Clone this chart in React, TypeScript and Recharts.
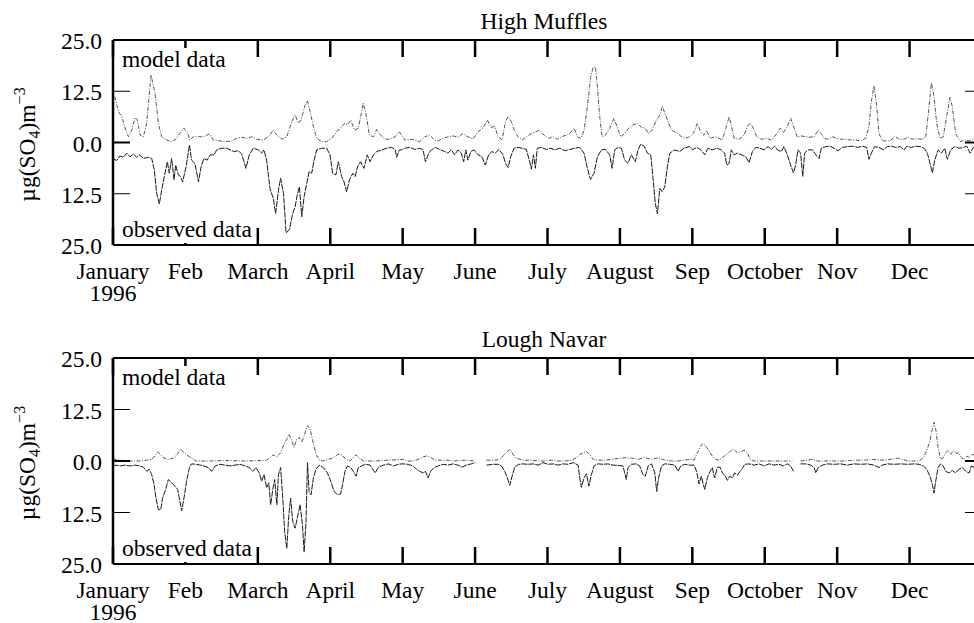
import { LineChart, Line, XAxis, YAxis, ReferenceLine } from "recharts"

const MONTHS = ["January", "Feb", "March", "April", "May", "June", "July", "August", "Sep", "October", "Nov", "Dec"]
// month ticks are evenly spaced on the original plot
const MONTH_DAYS = [0, 30.5, 61, 91.5, 122, 152.5, 183, 213.5, 244, 274.5, 305, 335.5]
const Y_TICKS = [-25, -12.5, 0, 12.5, 25]

// [day of 1996, ug(SO4) m-3]
const HM_MODEL: [number, number | null][] = [
  [0.8, 11.2], [2.3, 7.5], [3.7, 6.3], [5.1, 3.5], [6.5, 1.4], [7.9, 3.0], [9.3, 6.1], [10.3, 5.5], [11.4, 1.8], [12.8, 1.4],
  [14.2, 4.7], [16.0, 16.5], [17.7, 12.0], [19.1, 4.7], [20.5, 1.4], [22.6, 0.6], [24.7, 0.2], [26.1, 0.6], [28.2, 2.2], [29.9, 3.5],
  [31.5, 2.2], [32.4, 0.6], [33.8, 1.4], [36.0, 1.4], [38.1, 1.4], [40.6, 2.1], [42.3, 0.6], [45.1, 0.4], [47.2, 0.2], [50.0, 0.4],
  [52.1, 1.0], [54.2, 1.3], [56.3, 1.0], [58.4, 1.4], [60.5, 0.8], [63.3, 0.6], [65.4, 1.4], [67.5, 3.0], [69.0, 1.8], [71.1, 0.8],
  [73.2, 1.4], [75.3, 5.1], [76.7, 6.7], [78.1, 4.7], [79.2, 5.5], [80.9, 9.1], [81.9, 10.2], [83.0, 7.5], [84.4, 3.9], [85.8, 1.0],
  [87.9, 0.2], [90.0, 0.2], [92.1, 1.0], [94.2, 2.6], [96.3, 3.9], [97.7, 4.7], [98.7, 4.3], [100.1, 5.5], [101.7, 3.0], [103.3, 3.5],
  [104.3, 6.3], [105.4, 9.6], [106.6, 6.7], [108.0, 1.8], [109.7, 1.4], [111.1, 3.2], [112.7, 1.8], [114.6, 0.8], [116.7, 0.8], [118.8, 1.4],
  [120.6, 2.6], [121.5, 1.8], [122.9, 0.6], [125.0, 0.8], [127.1, 0.6], [129.2, 0.2], [131.3, 1.4], [133.4, 1.8], [135.5, 0.6], [136.9, 0.4],
  [139.0, 1.0], [141.1, 1.4], [143.2, 1.6], [145.3, 1.3], [147.4, 2.2], [149.5, 1.4], [151.6, 0.8], [153.7, 2.6], [155.8, 3.5], [157.7, 5.5],
  [159.1, 3.7], [160.8, 3.9], [162.2, 1.4], [163.9, 0.6], [165.3, 5.1], [166.4, 6.3], [167.8, 5.1], [169.2, 2.6], [170.6, 1.4], [172.3, 0.6],
  [174.1, 1.4], [176.2, 2.2], [177.9, 2.6], [179.7, 3.0], [181.5, 1.8], [183.5, 1.0], [185.3, 1.4], [187.2, 0.8], [188.8, 1.4], [191.0, 1.8],
  [192.4, 2.2], [194.2, 3.5], [195.6, 1.4], [197.0, 1.0], [198.4, 3.0], [199.8, 8.7], [201.2, 16.1], [202.2, 18.3], [203.2, 18.5], [204.0, 13.6],
  [205.0, 6.3], [206.0, 1.4], [207.4, 1.8], [209.2, 3.5], [211.0, 5.9], [212.4, 3.7], [213.8, 1.4], [215.5, 2.2], [217.2, 3.5], [219.0, 4.3],
  [220.9, 4.7], [222.5, 3.7], [224.2, 3.5], [225.6, 2.1], [227.0, 3.0], [228.9, 5.5], [230.3, 6.7], [231.4, 8.9], [232.4, 7.1], [233.8, 5.1],
  [235.2, 3.0], [237.3, 2.4], [239.1, 1.6], [240.8, 1.0], [242.9, 1.4], [244.4, 2.2], [246.1, 4.7], [247.5, 2.6], [248.9, 1.8], [250.0, 2.9],
  [251.5, 1.0], [253.4, 1.4], [255.2, 1.0], [256.6, 0.6], [258.1, 3.5], [259.5, 6.3], [260.4, 4.3], [261.6, 1.0], [263.7, 0.8], [265.8, 1.8],
  [267.2, 3.9], [268.3, 4.8], [269.7, 3.5], [271.1, 1.4], [273.1, 0.8], [275.3, 1.0], [277.3, 0.6], [279.1, 1.8], [281.0, 3.5], [282.3, 2.4],
  [284.0, 3.9], [285.4, 5.9], [286.8, 3.7], [288.2, 1.3], [289.9, 1.6], [291.8, 1.4], [293.6, 1.3], [295.3, 1.4], [297.0, 3.0], [298.3, 2.2],
  [299.5, 1.0], [301.2, 0.8], [303.0, 1.4], [304.8, 1.0], [306.5, 0.8], [308.6, 0.8], [310.7, 0.6], [312.8, 0.6], [314.9, 0.4], [317.0, 1.0],
  [318.4, 3.9], [319.4, 10.0], [320.5, 13.8], [321.7, 8.7], [322.6, 2.2], [324.0, 0.4], [326.2, 0.4], [327.8, 0.6], [329.2, 1.6], [331.1, 0.8],
  [333.2, 0.8], [334.9, 1.3], [336.7, 0.8], [338.8, 0.9], [340.9, 0.8], [342.3, 1.4], [343.4, 7.1], [344.7, 14.6], [345.8, 11.2], [346.9, 4.7],
  [348.3, 1.0], [349.7, 1.4], [351.1, 6.3], [352.5, 11.0], [353.5, 8.7], [354.9, 2.2], [356.8, 0.2], [358.4, 0.6], [360.6, 0.4], [362.7, 1.0],
  [365.0, 1.2],
]

const HM_OBS: [number, number | null][] = [
  [0.1, 3.9], [1.5, 4.4], [2.9, 3.3], [4.4, 3.6], [5.8, 2.6], [7.2, 3.5], [8.6, 2.8], [10.0, 3.6], [11.4, 3.0], [12.8, 3.9],
  [14.9, 3.6], [16.3, 3.9], [17.4, 6.7], [18.4, 12.4], [19.5, 15.0], [20.5, 11.6], [21.9, 7.5], [22.9, 4.7], [23.7, 7.5], [24.7, 3.9],
  [25.7, 9.1], [26.4, 5.5], [27.5, 7.9], [28.5, 8.3], [29.3, 9.6], [30.8, 5.9], [32.2, 0.6], [33.1, 4.3], [34.5, 5.1], [36.0, 9.6],
  [37.1, 5.9], [38.3, 3.9], [39.7, 4.3], [40.9, 3.0], [42.5, 3.0], [43.7, 1.8], [45.8, 1.4], [47.9, 1.4], [49.3, 1.8], [51.0, 2.2],
  [52.8, 2.0], [54.2, 2.8], [56.0, 6.3], [57.4, 3.0], [59.1, 1.4], [61.2, 1.8], [62.6, 2.6], [63.6, 1.8], [64.7, 4.3], [66.1, 11.2],
  [67.5, 13.6], [68.5, 17.3], [69.7, 11.6], [70.6, 8.7], [71.8, 12.4], [72.9, 22.0], [74.3, 21.3], [75.7, 17.3], [76.7, 15.7], [77.6, 12.8],
  [78.5, 10.8], [79.5, 18.1], [80.5, 13.2], [81.6, 10.0], [82.6, 7.1], [83.7, 7.5], [84.7, 4.3], [85.8, 1.8], [87.9, 1.4], [90.0, 1.4],
  [91.4, 3.0], [92.5, 7.5], [93.9, 7.9], [94.9, 4.7], [96.3, 8.3], [97.3, 9.6], [98.4, 12.0], [99.6, 9.1], [101.0, 7.5], [102.0, 8.3],
  [103.0, 5.9], [104.3, 4.7], [105.7, 6.3], [107.1, 3.0], [108.3, 4.7], [109.7, 3.0], [111.1, 2.2], [113.2, 1.8], [115.3, 1.4], [117.4, 1.2],
  [118.8, 1.7], [119.5, 3.6], [120.6, 1.8], [121.5, 1.8], [122.9, 1.4], [125.0, 1.2], [127.1, 1.7], [129.2, 1.4], [130.6, 1.8], [131.6, 4.7],
  [133.0, 2.6], [134.1, 1.8], [135.8, 1.2], [137.6, 1.7], [139.7, 2.2], [141.1, 2.6], [142.5, 1.8], [143.9, 3.0], [145.3, 1.8], [146.7, 2.6],
  [147.7, 4.7], [148.6, 1.8], [149.5, 4.3], [150.7, 2.2], [152.1, 1.8], [153.7, 3.0], [155.4, 3.5], [156.8, 5.5], [158.2, 3.0], [159.6, 2.2],
  [161.0, 2.6], [162.5, 1.7], [164.3, 3.0], [165.3, 5.1], [166.4, 6.1], [167.5, 3.5], [168.9, 1.4], [170.6, 1.2], [172.3, 1.4], [174.1, 1.7],
  [175.5, 4.7], [176.2, 6.5], [177.1, 3.0], [177.9, 6.3], [178.7, 1.4], [180.4, 1.2], [182.5, 1.7], [184.4, 1.4], [186.0, 1.8], [188.1, 1.4],
  [190.3, 2.0], [192.4, 1.7], [194.5, 1.4], [196.6, 1.2], [198.4, 2.6], [199.8, 6.3], [201.1, 9.0], [202.6, 7.5], [204.0, 3.5], [205.7, 1.8],
  [207.4, 1.7], [209.2, 3.0], [210.2, 6.3], [211.3, 1.8], [212.7, 1.2], [214.1, 1.4], [215.5, 4.3], [216.9, 5.1], [218.3, 3.0], [220.0, 4.7],
  [221.1, 1.8], [222.3, 0.4], [223.7, 0.9], [225.1, 2.6], [226.5, 3.0], [227.5, 9.1], [228.4, 14.8], [229.3, 17.4], [230.3, 11.2], [231.3, 12.0],
  [232.4, 10.8], [233.5, 5.9], [234.5, 2.6], [236.6, 1.8], [238.7, 2.2], [240.5, 1.4], [242.9, 1.0], [244.0, 1.8], [245.8, 1.2], [247.5, 1.7],
  [249.2, 3.0], [250.6, 1.4], [252.4, 1.8], [254.3, 1.4], [256.2, 1.8], [257.6, 2.6], [258.5, 5.5], [259.5, 5.1], [260.4, 1.8], [261.6, 3.0],
  [263.0, 2.6], [264.7, 3.0], [266.5, 3.5], [267.9, 4.9], [269.3, 2.2], [270.7, 1.2], [272.5, 1.4], [274.2, 1.8], [275.9, 1.0], [277.3, 1.7],
  [278.7, 0.9], [279.8, 1.8], [281.5, 2.2], [282.6, 1.0], [284.0, 3.0], [285.4, 5.5], [286.6, 7.4], [287.5, 5.5], [288.5, 1.8], [289.6, 2.6],
  [290.5, 8.3], [291.3, 2.6], [292.7, 1.8], [294.6, 1.8], [296.0, 3.0], [297.4, 3.9], [298.3, 1.4], [300.2, 1.0], [302.0, 0.9], [303.7, 1.4],
  [305.4, 2.0], [307.2, 1.2], [309.3, 1.0], [311.4, 0.9], [313.5, 1.2], [315.6, 0.9], [317.4, 1.2], [318.4, 4.1], [319.4, 2.6], [320.8, 1.0],
  [322.6, 1.2], [324.5, 1.8], [326.1, 1.0], [327.8, 0.9], [329.7, 1.2], [331.5, 1.0], [333.2, 1.8], [334.3, 0.9], [336.0, 1.2], [338.1, 0.9],
  [339.9, 1.0], [341.6, 1.4], [343.0, 2.6], [344.1, 5.1], [345.1, 7.4], [346.1, 4.3], [347.5, 1.8], [348.9, 2.6], [350.3, 1.4], [351.4, 4.1],
  [352.8, 1.8], [354.5, 1.0], [356.3, 1.4], [358.2, 1.2], [359.6, 0.9], [361.0, 2.6], [362.4, 1.2], [365.0, 1.0],
]

const LN_MODEL: [number, number | null][] = [
  [0.0, 0.7], [0.8, 0.4], [3.0, 0.2], [5.8, 0.0], [8.6, 0.0], [11.4, 0.0], [14.2, 0.2], [16.3, 0.4], [17.7, 1.2], [18.8, 2.2],
  [20.1, 1.5], [21.5, 0.7], [23.3, 0.4], [25.4, 0.7], [27.1, 1.6], [28.5, 2.9], [29.9, 2.0], [31.7, 1.2], [33.1, 0.7], [35.0, 0.0],
  [37.4, 0.0], [40.9, 0.0], [45.0, 0.1], [50.0, 0.1], [55.0, 0.0], [60.0, 0.1], [63.3, 0.1], [64.7, 0.2], [66.1, 0.8], [67.5, 1.5],
  [69.0, 1.0], [70.6, 2.0], [72.0, 4.1], [73.2, 5.3], [74.1, 6.5], [75.3, 4.9], [76.2, 3.3], [77.4, 5.3], [78.5, 5.7], [79.5, 4.5],
  [80.5, 6.1], [81.9, 8.6], [83.0, 7.8], [84.1, 4.9], [85.5, 1.6], [86.9, 0.2], [88.6, 0.0], [90.7, 0.4], [92.8, 0.8], [94.6, 1.6],
  [96.3, 1.5], [98.1, 0.4], [99.8, 0.0], [101.2, 0.8], [102.4, 1.5], [103.8, 0.7], [105.5, 0.0], [108.3, 0.0], [111.1, 0.0], [115.3, 0.2],
  [119.5, 0.3], [121.7, 0.4], [122.2, 0.4], [124.3, 0.0], [126.4, 0.0], [128.5, 0.4], [130.6, 1.0], [132.0, 1.2], [133.4, 1.0], [135.5, 0.2],
  [138.3, 0.2], [141.1, 0.2], [143.9, 0.0], [148.1, 0.2], [152.3, 0.0], [154.8, null], [157.3, 0.2], [160.8, 0.2], [162.9, 0.4], [164.3, 1.2],
  [165.7, 2.0], [167.1, 2.9], [168.5, 1.6], [169.5, 0.8], [171.3, 0.4], [173.4, 0.2], [176.2, 0.2], [179.0, 0.0], [181.8, 0.0], [184.6, 0.2],
  [187.4, 0.0], [190.3, 0.0], [193.1, 0.2], [195.2, 0.8], [196.6, 1.6], [198.0, 2.0], [199.4, 2.3], [200.8, 1.6], [202.2, 0.4], [204.3, 0.2],
  [207.1, 0.2], [209.9, 0.4], [212.7, 0.6], [215.5, 0.8], [218.3, 0.7], [221.1, 0.4], [223.9, 0.8], [226.8, 0.4], [229.6, 0.8], [232.4, 0.2],
  [235.2, 0.0], [238.0, 0.0], [240.8, 0.2], [242.9, 0.4], [244.7, 0.2], [245.8, 1.6], [246.8, 2.9], [248.2, 4.2], [249.6, 3.7], [251.0, 2.5],
  [252.4, 1.2], [253.8, 0.4], [255.2, 0.2], [256.6, 0.8], [258.1, 1.5], [259.5, 2.0], [260.9, 2.9], [261.8, 2.6], [263.0, 2.0], [264.4, 2.2],
  [265.8, 2.6], [267.2, 2.0], [268.3, 0.4], [270.0, 0.0], [272.8, 0.0], [275.6, 0.0], [278.4, 0.0], [281.2, 0.0], [284.0, 0.0], [286.1, 0.0],
  [287.9, null], [289.6, 0.0], [292.5, 0.2], [294.6, 0.4], [296.7, 0.0], [299.5, 0.0], [303.7, 0.0], [307.9, 0.0], [312.1, 0.2], [316.3, 0.2],
  [320.5, 0.4], [324.7, 0.2], [327.6, 0.4], [330.4, 0.7], [332.5, 0.4], [334.6, 0.0], [337.4, 0.0], [339.5, 0.0], [341.3, 0.8], [342.7, 2.5],
  [344.1, 4.9], [345.1, 7.8], [345.8, 9.4], [346.6, 7.4], [347.5, 3.3], [348.6, 0.4], [349.7, 0.8], [350.7, 2.0], [351.7, 2.6], [352.8, 1.6],
  [353.9, 2.5], [355.4, 1.8], [356.3, 2.0], [357.3, 0.8], [358.4, 0.4], [359.6, 1.2], [360.6, 0.8], [361.5, 1.5], [362.7, 1.6], [365.0, 1.2],
]

const LN_OBS: [number, number | null][] = [
  [0.0, 1.2], [0.8, 1.0], [3.0, 1.2], [5.1, 1.0], [7.2, 1.2], [9.3, 1.0], [11.4, 1.2], [12.8, 1.5], [14.2, 2.5], [15.3, 2.0],
  [16.3, 3.3], [17.3, 5.7], [18.1, 9.0], [19.1, 11.8], [20.1, 11.8], [20.9, 9.0], [21.9, 7.4], [23.3, 4.5], [24.7, 5.3], [26.1, 6.1],
  [27.2, 6.9], [28.2, 9.8], [28.9, 12.1], [29.9, 9.0], [31.0, 4.9], [32.2, 1.6], [33.1, 0.7], [35.0, 0.8], [36.7, 1.0], [38.3, 1.2],
  [40.2, 1.6], [41.6, 2.5], [43.0, 1.2], [45.1, 0.8], [47.2, 1.0], [49.3, 1.2], [51.4, 1.0], [53.5, 0.8], [55.6, 1.2], [57.4, 1.6],
  [58.8, 2.5], [60.2, 1.6], [61.6, 2.9], [62.6, 4.9], [63.6, 3.3], [64.7, 6.5], [65.6, 5.3], [66.4, 10.6], [67.3, 6.9], [68.1, 4.5],
  [69.0, 10.6], [69.7, 3.3], [70.6, 1.6], [71.5, 9.0], [72.3, 17.2], [73.2, 21.2], [74.0, 13.5], [74.8, 9.0], [75.7, 14.7], [76.7, 16.3],
  [77.6, 13.9], [78.8, 10.6], [79.8, 15.5], [80.5, 22.1], [81.3, 14.7], [81.9, 0.4], [82.6, 7.4], [83.4, 8.2], [84.4, 4.1], [85.5, 2.0],
  [86.9, 1.0], [88.6, 1.6], [90.3, 2.9], [91.7, 4.9], [93.1, 7.4], [94.5, 8.2], [95.9, 8.0], [96.7, 5.7], [97.7, 2.5], [98.7, 1.2],
  [100.1, 1.6], [101.2, 2.5], [102.4, 3.7], [103.3, 1.6], [104.8, 1.2], [106.2, 0.8], [108.3, 1.0], [110.4, 2.9], [111.8, 1.5], [113.9, 1.0],
  [116.0, 0.7], [118.1, 1.2], [120.2, 0.8], [121.7, 0.7], [122.2, 0.7], [124.3, 0.8], [126.4, 1.2], [127.8, 2.0], [129.2, 2.5], [130.6, 2.9],
  [131.6, 2.5], [132.7, 4.1], [133.8, 2.5], [135.2, 1.6], [136.9, 1.2], [139.0, 0.8], [141.1, 1.0], [143.2, 0.7], [145.3, 1.0], [147.0, 1.5],
  [148.8, 1.0], [150.9, 0.7], [152.6, 0.4], [155.0, null], [157.3, 1.0], [160.1, 0.8], [162.2, 0.8], [163.6, 1.2], [165.0, 2.5], [166.1, 4.1],
  [167.1, 5.9], [168.1, 3.7], [169.2, 1.5], [170.9, 0.8], [172.7, 0.7], [174.8, 0.8], [176.9, 0.7], [179.0, 1.0], [181.1, 0.4], [183.2, 0.8],
  [185.3, 0.7], [187.4, 1.0], [189.5, 0.7], [191.7, 0.8], [193.8, 0.4], [195.9, 1.0], [196.6, 4.1], [197.3, 6.4], [198.4, 4.1], [199.4, 3.1],
  [200.4, 6.1], [201.5, 3.3], [202.6, 1.2], [204.3, 0.7], [206.4, 0.8], [208.5, 0.7], [210.6, 1.0], [214.8, 1.2], [215.5, 2.9], [216.2, 4.5],
  [216.9, 1.6], [218.3, 0.8], [220.4, 0.7], [221.8, 1.2], [223.2, 3.3], [224.2, 3.7], [225.4, 1.2], [226.8, 0.7], [228.2, 2.9], [229.0, 7.4],
  [229.8, 4.1], [231.0, 1.2], [232.4, 0.7], [234.5, 0.8], [236.6, 1.0], [238.0, 2.5], [239.1, 1.2], [240.8, 0.8], [242.9, 1.0], [244.7, 1.0],
  [245.8, 2.5], [246.8, 5.6], [247.8, 3.7], [248.6, 5.7], [249.3, 6.9], [250.3, 4.1], [251.5, 2.5], [252.4, 1.6], [253.4, 4.1], [254.5, 1.6],
  [255.7, 1.5], [256.6, 2.9], [257.6, 3.4], [258.8, 4.7], [259.7, 3.7], [260.9, 4.1], [261.8, 2.9], [263.0, 3.4], [264.1, 2.5], [265.1, 1.8],
  [266.1, 0.8], [267.9, 0.7], [270.0, 1.0], [272.1, 0.7], [274.2, 1.2], [276.3, 0.7], [278.4, 1.0], [280.5, 0.8], [282.3, 1.2], [284.0, 0.7],
  [285.4, 1.2], [286.6, 2.5], [288.0, null], [289.6, 0.7], [291.8, 0.7], [293.9, 1.0], [295.3, 1.6], [296.0, 2.9], [297.0, 1.6], [298.8, 1.0],
  [300.9, 0.7], [303.7, 0.8], [306.5, 0.7], [309.3, 1.0], [312.1, 0.7], [314.9, 0.8], [317.7, 0.7], [320.5, 1.0], [322.6, 1.6], [324.0, 1.0],
  [326.1, 0.7], [329.0, 0.8], [331.8, 0.7], [334.6, 0.8], [337.4, 0.7], [339.5, 0.8], [341.3, 1.2], [342.7, 2.0], [344.1, 3.7], [345.1, 5.7],
  [345.8, 7.8], [346.5, 4.9], [347.5, 1.6], [348.6, 0.7], [349.7, 1.2], [350.7, 2.5], [352.1, 2.9], [353.5, 2.3], [354.9, 2.9], [356.3, 2.0],
  [357.7, 1.6], [359.1, 2.5], [360.6, 2.9], [361.5, 1.2], [362.7, 1.6], [365.0, 1.4],
]

const FONT = "Liberation Serif, DejaVu Serif, serif"
const FS = 23.5
const PLOT_W = 869
const TICK = 17

// observed values are drawn downwards from the zero line
const rows = (pts: [number, number | null][], sign: number) =>
  pts.map(([day, v]) => ({ day, v: v == null ? null : sign * v }))

function MonthTick(props: any) {
  const { x, y, payload, plotH } = props
  const i = MONTH_DAYS.findIndex((d) => Math.abs(d - payload.value) < 0.01)
  return (
    <g>
      <line x1={x} x2={x} y1={y} y2={y - TICK} stroke="#000" strokeWidth={2.5} />
      <line x1={x} x2={x} y1={y - plotH} y2={y - plotH + TICK} stroke="#000" strokeWidth={2.5} />
      <text x={x} y={y + 34} textAnchor="middle" style={{ fontFamily: FONT, fontSize: FS }} fill="#000">
        {MONTHS[i]}
        {i === 0 && (
          <tspan x={x} dy={22}>
            1996
          </tspan>
        )}
      </text>
    </g>
  )
}

function ValueTick(props: any) {
  const { x, y, payload } = props
  const w = payload.value === 0 ? 2 : 1
  return (
    <g>
      <line x1={x} x2={x + TICK} y1={y} y2={y} stroke="#000" strokeWidth={w} />
      <line x1={x + PLOT_W - TICK} x2={x + PLOT_W} y1={y} y2={y} stroke="#000" strokeWidth={w} />
      <text x={x - 11} y={y + 9} textAnchor="end" style={{ fontFamily: FONT, fontSize: FS }} fill="#000">
        {Math.abs(payload.value).toFixed(1)}
      </text>
    </g>
  )
}

function Panel({ model, observed, plotH }: { model: any[]; observed: any[]; plotH: number }) {
  return (
    <LineChart width={1000} height={40 + plotH + 65} margin={{ top: 40, right: 18, bottom: 64, left: 112 }}>
      <XAxis
        dataKey="day"
        type="number"
        domain={[0, 366]}
        allowDataOverflow
        ticks={MONTH_DAYS}
        interval={0}
        height={1}
        tickSize={0}
        tickMargin={0}
        tickLine={false}
        axisLine={{ stroke: "#000", strokeWidth: 2 }}
        tick={(p: any) => <MonthTick {...p} plotH={plotH} />}
      />
      <YAxis
        type="number"
        domain={[-25, 25]}
        allowDataOverflow
        ticks={Y_TICKS}
        interval={0}
        width={1}
        tickSize={0}
        tickMargin={0}
        tickLine={false}
        axisLine={{ stroke: "#000", strokeWidth: 2.5 }}
        tick={(p: any) => <ValueTick {...p} />}
      />
      <ReferenceLine y={25} stroke="#000" strokeWidth={2} />
      <Line
        data={model}
        dataKey="v"
        type="linear"
        stroke="#555"
        strokeWidth={1}
        strokeDasharray="4 1.5 1 1.5"
        dot={false}
        isAnimationActive={false}
      />
      <Line
        data={observed}
        dataKey="v"
        type="linear"
        stroke="#1a1a1a"
        strokeWidth={1}
        strokeDasharray="6 1"
        dot={false}
        isAnimationActive={false}
      />
    </LineChart>
  )
}

function UnitLabel({ cx, cy }: { cx: number; cy: number }) {
  return (
    <text transform={`translate(${cx},${cy}) rotate(-90)`} textAnchor="middle">
      µg(SO
      <tspan fontSize={16} dy={5}>4</tspan>
      <tspan dy={-5}>)m</tspan>
      <tspan fontSize={16} dy={-10}>−3</tspan>
    </text>
  )
}

function PanelText({ top, plotH, title }: { top: number; plotH: number; title: string }) {
  const bottom = top + plotH
  return (
    <g>
      <text x={544} y={top - 11} textAnchor="middle">{title}</text>
      <rect x={119} y={top + 8} width={110} height={25} fill="#fff" />
      <text x={122} y={top + 27}>model data</text>
      <rect x={119} y={bottom - 26} width={136} height={24} fill="#fff" />
      <text x={122} y={bottom - 8}>observed data</text>
      <UnitLabel cx={35} cy={top + plotH / 2 + 2} />
    </g>
  )
}

export default function App() {
  return (
    <div style={{ position: "absolute", left: 0, top: 0, width: 974, height: 623, overflow: "hidden", background: "#fff" }}>
      <div style={{ position: "absolute", left: 0, top: 0 }}>
        <Panel model={rows(HM_MODEL, 1)} observed={rows(HM_OBS, -1)} plotH={205} />
      </div>
      <div style={{ position: "absolute", left: 0, top: 318 }}>
        <Panel model={rows(LN_MODEL, 1)} observed={rows(LN_OBS, -1)} plotH={206} />
      </div>
      <svg
        width={974}
        height={623}
        style={{ position: "absolute", left: 0, top: 0, pointerEvents: "none", fontFamily: FONT, fontSize: FS }}
        fill="#000"
      >
        <PanelText top={40} plotH={205} title="High Muffles" />
        <PanelText top={358} plotH={206} title="Lough Navar" />
      </svg>
    </div>
  )
}
